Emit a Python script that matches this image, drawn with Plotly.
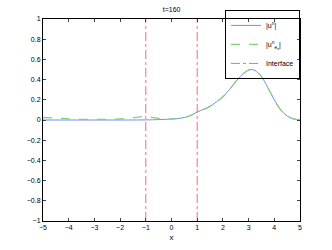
import plotly.graph_objects as go

x_u = [-5, -4, -3, -2, -1, -0.5, 0, 0.25, 0.5, 0.75, 1.0, 1.25, 1.5, 1.75, 2.0, 2.25, 2.5, 2.75, 3.0, 3.1, 3.25, 3.5, 3.75, 4.0, 4.25, 4.5, 4.75, 5.0]
u_abs = [0.0, 0.0, 0.0, 0.0, 0.001, 0.004, 0.01, 0.015, 0.025, 0.045, 0.08, 0.105, 0.135, 0.18, 0.23, 0.3, 0.38, 0.45, 0.495, 0.5, 0.49, 0.43, 0.32, 0.2, 0.1, 0.04, 0.01, 0.002]

x_ue = [-5, -4.5, -4, -3.5, -3, -2.5, -2, -1.5, -1.25, -1, -0.75, -0.5, -0.25, 0, 0.25, 0.5, 0.75, 1.0, 1.25, 1.5, 1.75, 2.0, 2.25, 2.5, 2.75, 3.0, 3.1, 3.25, 3.5, 3.75, 4.0, 4.25, 4.5, 4.75, 5.0]
ue_abs = [0.025, 0.02, 0.012, 0.007, 0.005, 0.006, 0.012, 0.022, 0.03, 0.033, 0.025, 0.015, 0.01, 0.008, 0.015, 0.025, 0.045, 0.08, 0.105, 0.135, 0.18, 0.23, 0.3, 0.38, 0.45, 0.495, 0.5, 0.49, 0.43, 0.32, 0.2, 0.1, 0.04, 0.01, 0.002]

interfaces = [-1, 1]
x_ticks = [-5, -4, -3, -2, -1, 0, 1, 2, 3, 4, 5]
y_ticks = [-1, -0.8, -0.6, -0.4, -0.2, 0, 0.2, 0.4, 0.6, 0.8, 1]
title_text = "t=160"

font = "Liberation Sans"
fig = go.Figure()
fig.add_trace(go.Scatter(x=x_u, y=u_abs, mode="lines", line=dict(color="#6f8ff5", width=1, shape="spline"),
                         name="|u<sup>n</sup>|"))
fig.add_trace(go.Scatter(x=x_ue, y=ue_abs, mode="lines", line=dict(color="#86d07a", width=1.3, dash="dash", shape="spline"),
                         name="|u<sup>n</sup><sub>e<sub>o</sub></sub>|"))
for i, xi in enumerate(interfaces):
    fig.add_trace(go.Scatter(x=[xi, xi], y=[-1, 1], mode="lines",
                             line=dict(color="#f07070", width=1, dash="dashdot"),
                             name="Interface", showlegend=(i == 1)))

fig.update_layout(
    width=332, height=250,
    margin=dict(l=43, r=32, t=19, b=29, autoexpand=False),
    paper_bgcolor="white", plot_bgcolor="white",
    font=dict(family=font, size=7, color="black"),
    title=dict(text=title_text, x=0.517, xanchor="center", y=0.961, yanchor="middle", font=dict(size=7)),
    legend=dict(x=1, xanchor="right", y=1.045, yanchor="top", bgcolor="rgba(255,255,255,0)",
                bordercolor="black", borderwidth=1, font=dict(size=7), tracegroupgap=0,
                itemwidth=30),
    showlegend=True,
)
fig.update_xaxes(range=[-5, 5], tickvals=x_ticks, ticktext=[str(v).replace("-", "−") for v in x_ticks],
                 ticks="inside", ticklen=3, mirror="ticks", showline=True, linecolor="black", linewidth=1,
                 showgrid=False, zeroline=False, title=dict(text="x", standoff=3))
fig.update_yaxes(range=[-1, 1], tickvals=y_ticks, ticktext=[("%g" % v).replace("-", "−") for v in y_ticks],
                 ticks="inside", ticklen=3, mirror="ticks", showline=True, linecolor="black", linewidth=1,
                 showgrid=False, zeroline=False)
fig.write_html("out.html", config={"displayModeBar": False},
               post_script="document.body.style.margin='0';document.body.style.overflow='hidden';")
